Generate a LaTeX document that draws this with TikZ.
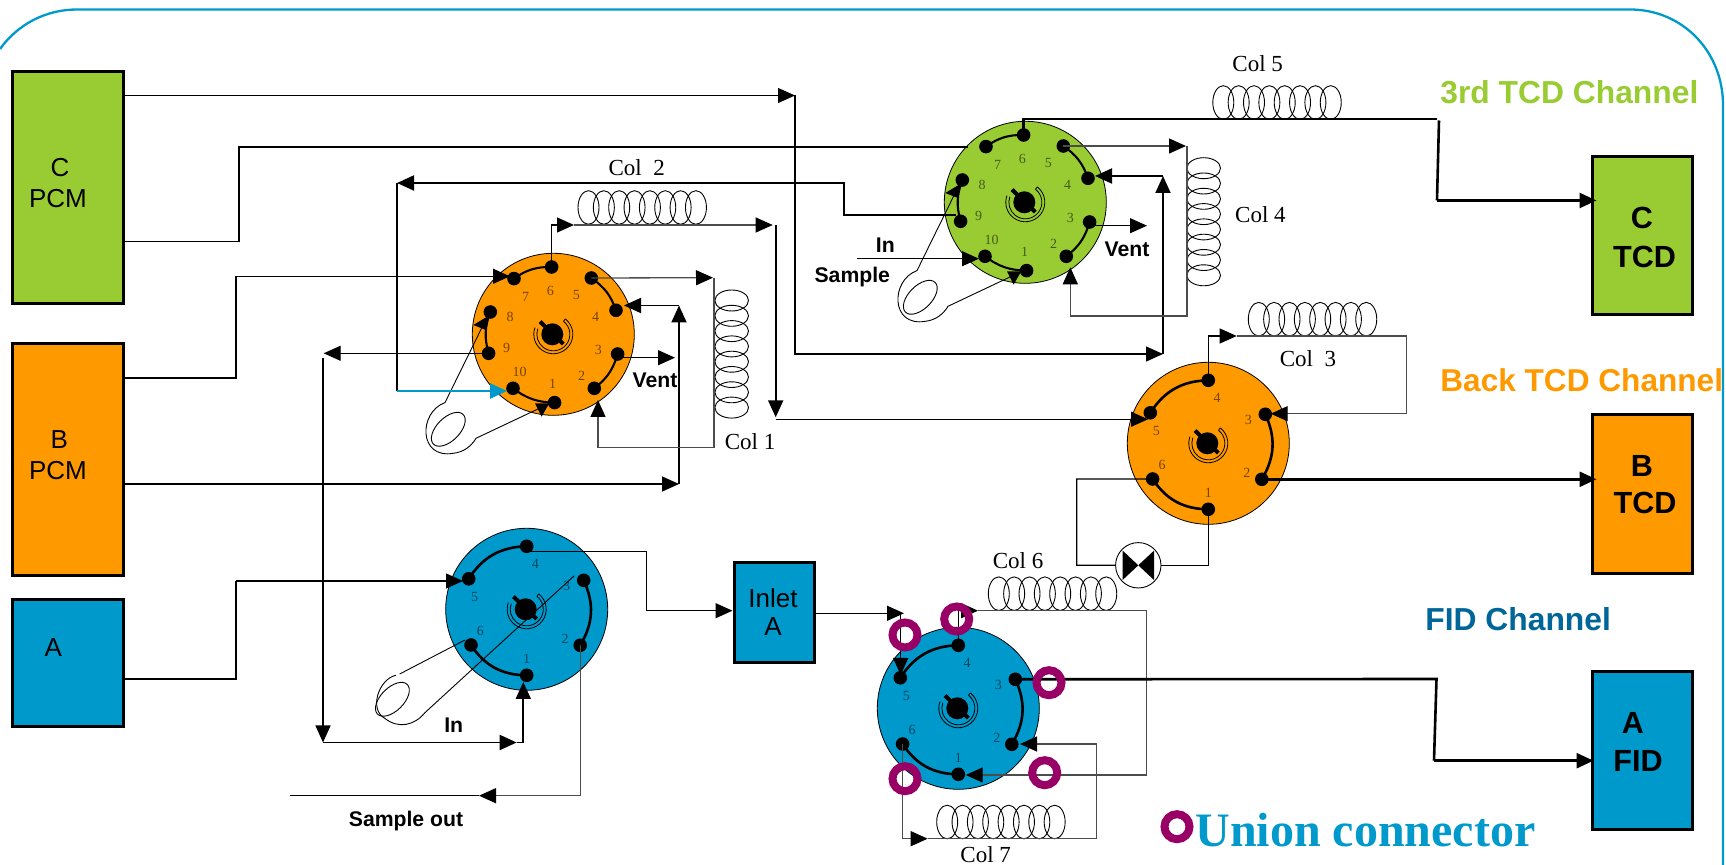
\documentclass[tikz,border=0pt]{standalone}
\usepackage{fontspec}
\setmainfont{Liberation Sans}
\newfontfamily\timesf{Liberation Serif}
\usetikzlibrary{arrows.meta,calc}
\definecolor{cgreen}{HTML}{99CC33}
\definecolor{corange}{HTML}{FF9900}
\definecolor{cblue}{HTML}{0099CC}
\definecolor{cfid}{HTML}{006699}
\definecolor{cunion}{HTML}{990066}
\tikzset{
  box/.style={draw=black,line width=1.5pt,inner sep=0pt,outer sep=0pt},
  valve/.style={circle,draw=black,line width=0.4pt,inner sep=0pt,outer sep=0pt,minimum size=81pt},
  port/.style={circle,fill=black,inner sep=0pt,outer sep=0pt,minimum size=6.8pt},
  portnum/.style={inner sep=0pt,font=\timesf\fontsize{7}{7}\selectfont},
  tl/.style={line width=0.6pt},
  tg/.style={line width=0.65pt,draw=black!70},
  ml/.style={line width=0.95pt},
  tk/.style={line width=1.3pt},
  bl/.style={line width=1.05pt},
  arr/.style={-{Triangle[length=8.5pt,width=7.5pt]}},
  thinl/.style={line width=0.45pt},
  lab/.style={inner sep=0pt,font=\fontsize{13}{13}\selectfont},
  blab/.style={inner sep=0pt,font=\bfseries\fontsize{15.3}{15.3}\selectfont},
  sm/.style={inner sep=0pt,font=\bfseries\fontsize{10.6}{10.6}\selectfont},
  collab/.style={inner sep=0pt,font=\timesf\fontsize{11.5}{11.5}\selectfont},
  union/.style={circle,draw=cunion,line width=4pt,inner sep=0pt,outer sep=0pt,minimum size=12.5pt},
}
\newcommand{\centersym}{%
  \fill (-1,0) circle (11);
  \draw[line width=2pt] (-13.3,-12.7) -- (10,9.7);
  \draw[line width=0.4pt] (12,-15.4) arc (-52:200:19.5);
  \draw[line width=0.4pt] (10.2,-13) arc (-52:200:16.5);
  \draw[line width=0.4pt] (12,-15.4) -- (10.2,-13);
}
\newcommand{\tenvalve}[4]{%
  \node[valve,fill=#4] (#1) at (#2,#3) {};
  \begin{scope}[shift={(#2,#3)}]
    \node[port] (#1p6) at (-1.7,-67.3) {};
    \node[port] (#1p7) at (-39.3,-55.7) {};
    \node[port] (#1p8) at (-63,-22.3) {};
    \node[port] (#1p9) at (-64.7,19) {};
    \node[port] (#1p10) at (-40.3,54) {};
    \node[port] (#1p1) at (1.3,68.3) {};
    \node[port] (#1p2) at (41,54) {};
    \node[port] (#1p3) at (64.3,19.7) {};
    \node[port] (#1p4) at (62.7,-24) {};
    \node[port] (#1p5) at (38,-56.3) {};
    \draw[bl] (#1p6.center) to[bend right=18] (#1p7.center);
    \draw[bl] (#1p8.center) to[bend right=18] (#1p9.center);
    \draw[bl] (#1p10.center) to[bend right=18] (#1p1.center);
    \draw[bl] (#1p2.center) to[bend right=18] (#1p3.center);
    \draw[bl] (#1p4.center) to[bend right=18] (#1p5.center);
    \begin{scope}[text=#4!45!black]
    \node[portnum] (#1n6) at (-3,-43.7) {6};
    \node[portnum] (#1n7) at (-27.7,-37) {7};
    \node[portnum] (#1n8) at (-43.3,-17) {8};
    \node[portnum] (#1n9) at (-46.7,13.7) {9};
    \node[portnum] (#1n10) at (-33.7,38) {10};
    \node[portnum] (#1n1) at (-0.7,49.3) {1};
    \node[portnum] (#1n2) at (28.3,41.3) {2};
    \node[portnum] (#1n3) at (45,16) {3};
    \node[portnum] (#1n4) at (42.3,-17.7) {4};
    \node[portnum] (#1n5) at (23,-39) {5};
    \end{scope}
    \centersym
    \draw[thinl] (-66,-17.7) -- (-108.3,68.3) .. controls (-135,78) and (-135,125) .. (-100,119) .. controls (-90,118) and (-82,112) .. (-77.3,104) -- (-3.3,69);
    \draw[thinl,rotate around={-45:(-105,95)}] (-105,95) ellipse [x radius=11.5, y radius=21];
    \fill (-80,-9.3) -- (-66,-17.7) -- (-67.3,-4.3) -- cycle;
    \fill (-18.3,69) -- (-4,69) -- (-11.7,82.3) -- cycle;
  \end{scope}
}
\newcommand{\sixvalve}[4]{%
  \node[valve,fill=#4] (#1) at (#2,#3) {};
  \begin{scope}[shift={(#2,#3)}]
    \node[port] (#1p4) at (0,-63) {};
    \node[port] (#1p5) at (-58,-30.5) {};
    \node[port] (#1p6) at (-55.7,35.7) {};
    \node[port] (#1p1) at (0,66) {};
    \node[port] (#1p2) at (53.5,36) {};
    \node[port] (#1p3) at (57,-29) {};
    \draw[tk] (#1p4.center) to[bend right=28] (#1p5.center);
    \draw[tk] (#1p6.center) to[bend right=28] (#1p1.center);
    \draw[tk] (#1p2.center) to[bend right=28] (#1p3.center);
    \begin{scope}[text=#4!45!black]
    \node[portnum] (#1n4) at (8.7,-45.7) {4};
    \node[portnum] (#1n5) at (-52,-12) {5};
    \node[portnum] (#1n6) at (-46.3,22) {6};
    \node[portnum] (#1n1) at (0,50) {1};
    \node[portnum] (#1n2) at (38.5,30) {2};
    \node[portnum] (#1n3) at (40,-23.5) {3};
    \end{scope}
    \centersym
  \end{scope}
}
\newcommand{\coilh}[2]{\foreach \i in {0,...,7} \draw[thinl] ({#1+10.5+\i*15.35},#2) ellipse [x radius=10.5, y radius=16.8];}
\newcommand{\coilv}[2]{\foreach \i in {0,...,7} \draw[thinl] (#1,{#2+10.5+\i*15.3}) ellipse [x radius=16.8, y radius=10.5];}
\begin{document}
\begin{tikzpicture}[x=0.5pt,y=-0.5pt]
\useasboundingbox (0,0) rectangle (1726,865);
% frame
\draw[cblue,line width=1.15pt] (0,49) .. controls (18,24) and (46,9.5) .. (77,9.5) -- (1630,9.5) .. controls (1683,9.5) and (1723,52) .. (1723,105) -- (1723,865);
% boxes
\node[box,fill=cgreen,minimum width=55.5pt,minimum height=116pt] (cpcm) at (68,187.5) {};
\node[box,fill=corange,minimum width=55.5pt,minimum height=116.25pt] (bpcm) at (68,459.75) {};
\node[box,fill=cblue,minimum width=55.5pt,minimum height=63.5pt] (apcm) at (68,663) {};
\node[box,fill=cgreen,minimum width=50pt,minimum height=79pt] (ctcd) at (1642.5,236) {};
\node[box,fill=corange,minimum width=50pt,minimum height=79.25pt] (btcd) at (1642.5,494) {};
\node[box,fill=cblue,minimum width=50pt,minimum height=79.25pt] (afid) at (1642.5,750.75) {};
\node[box,fill=cblue,minimum width=40pt,minimum height=50pt] (inlet) at (774.5,613) {};
% box texts
\node[lab] (t1) at (60,167.7) {C};
\node[lab] (t2) at (58,199) {PCM};
\node[lab] (t3) at (59.3,439.3) {B};
\node[lab] (t4) at (58,471) {PCM};
\node[lab] (t5) at (53.3,647.3) {A};
\node[lab] (t6) at (773,598) {Inlet};
\node[lab] (t7) at (773,627) {A};
\node[blab] (t8) at (1642,218) {C};
\node[blab] (t9) at (1644.6,257) {TCD};
\node[blab] (t10) at (1642,465.7) {B};
\node[blab] (t11) at (1645,503) {TCD};
\node[blab] (t12) at (1633,722.7) {A};
\node[blab] (t13) at (1638,761) {FID};
% valves
\tenvalve{vo}{553.3}{334.3}{corange}
\tenvalve{vg}{1025.3}{202.3}{cgreen}
\sixvalve{vb}{526.7}{609.3}{cblue}
\sixvalve{vc}{958.3}{708.3}{cblue}
\sixvalve{vr}{1208.3}{443.3}{corange}
% sample loop of the left blue valve
\begin{scope}[shift={(526.7,609.3)}]
  \draw[thinl] (-61.7,30.7) -- (-127,64.7);
  \draw[thinl] (-131,66) .. controls (-148,70) and (-158,100) .. (-142,109) .. controls (-128,120) and (-112,116) .. (-101.7,103.3) -- (47.3,-33.3);
  \draw[thinl,rotate around={-45:(-134.3,90)}] (-134.3,90) ellipse [x radius=11.5, y radius=21];
\end{scope}
% coils
\coilh{578}{207.5}
\coilv{731.7}{290}
\coilh{1248.3}{319.2}
\coilh{1212.8}{102.5}
\coilv{1203.7}{157.7}
\coilh{988.3}{593.7}
\coilh{936.7}{822}
% coil labels
\node[collab] (c1) at (750,441.7) {Col 1};
\node[collab] (c2) at (636.7,167.3) {Col\ \ 2};
\node[collab] (c3) at (1308,359) {Col\ \ 3};
\node[collab] (c4) at (1260.4,215) {Col 4};
\node[collab] (c5) at (1257.7,64) {Col 5};
\node[collab] (c6) at (1018,561) {Col 6};
\node[collab] (c7) at (985.7,855) {Col 7};
% small labels
\node[sm] (s1) at (655,380.7) {Vent};
\node[sm] (s2) at (1127,249) {Vent};
\node[sm] (s3) at (885.3,245) {In};
\node[sm] (s4) at (852.3,277) {Sample};
\node[sm] (s5) at (453.7,725) {In};
\node[sm] (s6) at (406,821) {Sample out};
% channel labels
\node[inner sep=0pt,anchor=west,text=cgreen,font=\bfseries\fontsize{15.9}{16}\selectfont] (ch1) at (1440,92) {3rd TCD Channel};
\node[inner sep=0pt,anchor=west,text=corange,font=\bfseries\fontsize{15.8}{16}\selectfont] (ch2) at (1440,380) {Back TCD Channel};
\node[inner sep=0pt,anchor=west,text=cfid,font=\bfseries\fontsize{15.9}{16}\selectfont] (ch3) at (1425,619) {FID Channel};
% junctions
\coordinate (a1) at (795,95.5);
\coordinate (a2) at (1163,354);
\coordinate (a3) at (1163,176);
\coordinate (a4) at (1095,176);
\coordinate (b1) at (238.7,241.5);
\coordinate (b2) at (238.7,147);
\coordinate (b3) at (968,147);
\coordinate (d1) at (956,215);
\coordinate (d2) at (844,215);
\coordinate (d3) at (844,183);
\coordinate (d4) at (397,183);
\coordinate (d5) at (397,391);
\coordinate (d6) at (507,391);
\coordinate (e1) at (236.3,377.7);
\coordinate (e2) at (236.3,276.3);
\coordinate (e3) at (510,276.3);
\coordinate (f1) at (323.7,353.3);
\coordinate (f2) at (323,358);
\coordinate (f3) at (323,742.5);
\coordinate (f4) at (516.7,742.5);
\coordinate (f5) at (523.3,682);
\coordinate (g1) at (679,484);
\coordinate (g2) at (679,305.5);
\coordinate (g3) at (624,305.5);
\coordinate (h1) at (236,679);
\coordinate (h2) at (236,581);
\coordinate (h3) at (463,581);
% C PCM
\draw[tl,arr] (cpcm.east |- a1) -- (a1);
\draw[tl,arr] (a1) |- (a2);
\draw[ml,arr] (a2) -- (a3);
\draw[ml,arr] (a3) -- (a4);
\draw[ml] (cpcm.east |- b1) -- (b1) -- (b2) -- (b3);
% col 2 return
\draw[ml,arr] (d1) -- (d2) -- (d3) -- (d4);
\draw[ml] (d4) -- (d5);
\draw[tk,cblue,arr] (d5) -- (d6);
% B PCM
\draw[ml] (bpcm.east |- e1) -- (e1) -- (e2);
\draw[tl,arr] (e2) -- (e3);
\draw[tl,arr] (vop9.center) -- (f1);
\draw[tl,arr] (f2) -- (f3);
\draw[ml,arr] (f3) -- (f4);
\draw[ml,arr] (f4) -| (f5);
\draw[tl,arr] (bpcm.east |- g1) -- (g1);
\draw[ml,arr] (g1) -- (g2);
\draw[ml,arr] (g2) -- (g3);
% A
\draw[ml] (apcm.east |- h1) -- (h1) -- (h2);
\draw[tl,arr] (h2) -- (h3);
% orange valve outputs
\coordinate (v1) at (617.7,357.7);
\coordinate (v2) at (675,357.7);
\draw[tl,arr] (v1) -- (v2);
\coordinate (k1) at (713,277.7);
\coordinate (k2) at (714,447.7);
\coordinate (k3) at (598,447.7);
\coordinate (k4) at (598,400);
\draw[tg,arr,-{Triangle[length=8.5pt,width=7.5pt,fill=black,color=black]}] (vop5.center) -- (k1);
\draw[tg,-{Triangle[length=8.5pt,width=7.5pt,fill=black,color=black]}] (k1 -| k2) -- (k2) -- (k3) -- (k4);
\coordinate (m1) at (574,225);
\coordinate (m2) at (772.7,225);
\coordinate (m3) at (775.7,225);
\coordinate (m4) at (775.7,417.3);
\coordinate (m5) at (775.7,419.3);
\coordinate (m6) at (1148,419.3);
\draw[tl,arr] (vop6.center) |- (m1);
\draw[tg,-{Triangle[length=8.5pt,width=7.5pt,fill=black,color=black]}] (m1) -- (m2);
\draw[ml,arr] (m3) -- (m4);
\draw[tl,arr] (m5) -- (m6);
% green valve outputs
\coordinate (n1) at (1186,146);
\coordinate (n2) at (1187,316);
\coordinate (n3) at (1070.3,316);
\coordinate (n4) at (1070.3,267.3);
\draw[tg,-{Triangle[length=8.5pt,width=7.5pt,fill=black,color=black]}] (vgp5.center) -- (n1);
\draw[tg,-{Triangle[length=8.5pt,width=7.5pt,fill=black,color=black]}] (n1 -| n2) -- (n2) -- (n3) -- (n4);
\coordinate (v3) at (1090,225.7);
\coordinate (v4) at (1147,225.7);
\draw[tl,arr] (v3) -- (v4);
\coordinate (i1) at (857,258.7);
\coordinate (i2) at (979,258.7);
\draw[tl,arr] (i1) -- (i2);
\coordinate (p1) at (1023.6,119);
\coordinate (p2) at (1437,119);
\coordinate (p3) at (1439,120.5);
\coordinate (p4) at (1437,200.5);
\draw[tk] (vgp6.center) -- (p1) -- (p2);
\draw[tk] (p3) -- (p4);
\draw[tk,arr,shorten >=-2pt] (p4) -- (ctcd.west |- p4);
% right orange valve
\coordinate (q1) at (1236.7,336);
\coordinate (q2) at (1406.7,336);
\coordinate (q3) at (1406.7,413.7);
\coordinate (q4) at (1270.7,413.7);
\draw[tl,arr] (vrp4.center) |- (q1);
\draw[tg,-{Triangle[length=8.5pt,width=7.5pt,fill=black,color=black]}] (q1) -- (q2) -- (q3) -- (q4);
\draw[tk,arr,shorten >=-2pt] (vrp2.center) -- (btcd.west |- vrp2.center);
\node[circle,draw=black,line width=0.45pt,fill=white,inner sep=0pt,outer sep=0pt,minimum size=22.7pt] (bt) at (1138.3,565.3) {};
\fill ($(bt.center)+(-15.7,-14.7)$) -- (bt.center) -- ($(bt.center)+(-15.7,14.7)$) -- cycle;
\fill ($(bt.center)+(15.7,-14.7)$) -- (bt.center) -- ($(bt.center)+(15.7,14.7)$) -- cycle;
\coordinate (r1) at (1076.7,479);
\draw[tl] (vrp6.center) -- (r1) |- (bt.west);
\draw[tl] (bt.east) -| (vrp1.center);
% left blue valve
\coordinate (u1) at (526.7,551.3);
\coordinate (u2) at (646.7,551.3);
\coordinate (u3) at (646.7,610.7);
\draw[tl,arr,shorten >=1pt] (u1) -- (u2) -- (u3) -- (inlet.west |- u3);
\coordinate (w1) at (479,795.7);
\coordinate (w2) at (290,795.7);
\draw[tg,-{Triangle[length=8.5pt,width=7.5pt,fill=black,color=black]}] (vbp2.center) |- (w1);
\draw[tl] (w1) -- (w2);
% right blue valve
\coordinate (x1) at (904,613.3);
\coordinate (x2) at (900.7,613.3);
\coordinate (x3) at (900.7,675);
\draw[tl,arr] (inlet.east |- x1) -- (x1);
\draw[tl,arr] (x2) -- (x3);
\coordinate (y1) at (978,610.7);
\coordinate (y2) at (1146.7,610.7);
\coordinate (y3) at (1146.7,775);
\coordinate (y4) at (965.7,775);
\draw[tl,arr] (vcp4.center) |- (y1);
\draw[tg] (y1) -- (y2) -- (y3);
\draw[tg,-{Triangle[length=8.5pt,width=7.5pt,fill=black,color=black]}] (y3) -- (y4);
\coordinate (z1) at (927.7,838.7);
\coordinate (z2) at (1096.3,838.7);
\coordinate (z3) at (1096.3,744);
\coordinate (z4) at (1020,744);
\draw[tg,-{Triangle[length=8.5pt,width=7.5pt,fill=black,color=black]}] (vcp6.center) |- (z1);
\draw[tg,-{Triangle[length=8.5pt,width=7.5pt,fill=black,color=black]}] (z1) -- (z2) -- (z3) -- (z4);
\coordinate (o1) at (1436.5,679);
\coordinate (o2) at (1434,760.7);
\draw[tk] (vcp3.center) -- (o1) -- (o2);
\draw[tk,arr,shorten >=-0.5pt] (o2) -- (afid.west |- o2);
% union connectors
\node[union] (u01) at (905,635) {};
\node[union] (u02) at (956.7,619) {};
\node[union] (u03) at (1049,682.7) {};
\node[union] (u04) at (1044.7,772.7) {};
\node[union] (u05) at (905,778.7) {};
\node[union] (u06) at (1177,826.7) {};
\node[inner sep=0pt,anchor=west,text=cblue,font=\timesf\bfseries\fontsize{24}{24}\selectfont] (legend) at (1195,830) {Union connector};
\end{tikzpicture}
\end{document}
